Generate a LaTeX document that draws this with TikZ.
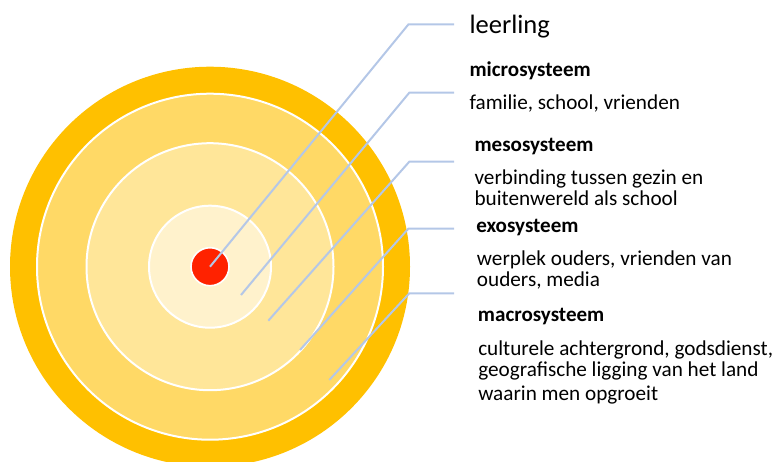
\documentclass[tikz,border=0pt]{standalone}
\usepackage{fontspec}
\setmainfont{Carlito}
\definecolor{ringA}{HTML}{FFC000}
\definecolor{ringB}{HTML}{FFD966}
\definecolor{ringC}{HTML}{FFE699}
\definecolor{ringD}{HTML}{FFF2CC}
\definecolor{core}{HTML}{FF2200}
\definecolor{leader}{HTML}{B4C7E7}
\begin{document}
\begin{tikzpicture}[x=0.75pt,y=-0.75pt,
  ring/.style={draw=white,line width=1.5pt},
  leaderline/.style={draw=leader,line width=1.5pt},
  lbl/.style={anchor=base west,inner sep=0pt,font=\fontsize{15.9pt}{18pt}\selectfont},
  head/.style={anchor=base west,inner sep=0pt,font=\fontsize{15.8pt}{18pt}\selectfont\bfseries},
  big/.style={anchor=base west,inner sep=0pt,font=\fontsize{19.9pt}{22pt}\selectfont}]
\useasboundingbox (0,0) rectangle (777,461);
\clip (0,0) rectangle (777,461);
\coordinate (c) at (210,266.7);
\fill[ringA] (c) circle[radius=200];
\path[ring,fill=ringB] (c) circle[radius=173];
\path[ring,fill=ringC] (c) circle[radius=123.5];
\path[ring,fill=ringD] (c) circle[radius=61];
\node[circle,draw=white,line width=1.2pt,fill=core,minimum size=38*0.75pt,inner sep=0pt] (pupil) at (c) {};
% leader lines
\coordinate (p1) at (210,266.7);
\coordinate (k1) at (408.5,24.3);
\coordinate (e1) at (454,24.3);
\coordinate (p2) at (241,295);
\coordinate (k2) at (409.3,92.7);
\coordinate (e2) at (454,92.7);
\coordinate (p3) at (268.3,320.7);
\coordinate (k3) at (409.3,161.7);
\coordinate (e3) at (454,161.7);
\coordinate (p4) at (300,350);
\coordinate (k4) at (408.5,228.5);
\coordinate (e4) at (454,228.5);
\coordinate (p5) at (329.3,380);
\coordinate (k5) at (409.3,293.3);
\coordinate (e5) at (454,293.3);
\foreach \i in {1,...,5}{\draw[leaderline] (p\i) -- (k\i) -- (e\i);}
% texts
\node[big] (t1) at (469.3,33.3) {leerling};
\node[head] (h2) at (469.3,76.7) {microsysteem};
\node[lbl] (t2) at (469.3,109) {familie, school, vrienden};
\node[head] (h3) at (474.3,151.7) {mesosysteem};
\node[lbl] (t3a) at (474.3,184.3) {verbinding tussen gezin en};
\node[lbl] (t3b) at (474.3,205.7) {buitenwereld als school};
\node[head] (h4) at (476,232.3) {exosysteem};
\node[lbl] (t4a) at (476.7,265) {werplek ouders, vrienden van};
\node[lbl] (t4b) at (476.7,286.7) {ouders, media};
\node[head] (h5) at (477.7,321.7) {macrosysteem};
\node[lbl] (t5a) at (478,355) {culturele achtergrond, godsdienst,};
\node[lbl] (t5b) at (478,376.7) {geografische ligging van het land};
\node[lbl] (t5c) at (478,400) {waarin men opgroeit};
\end{tikzpicture}
\end{document}
